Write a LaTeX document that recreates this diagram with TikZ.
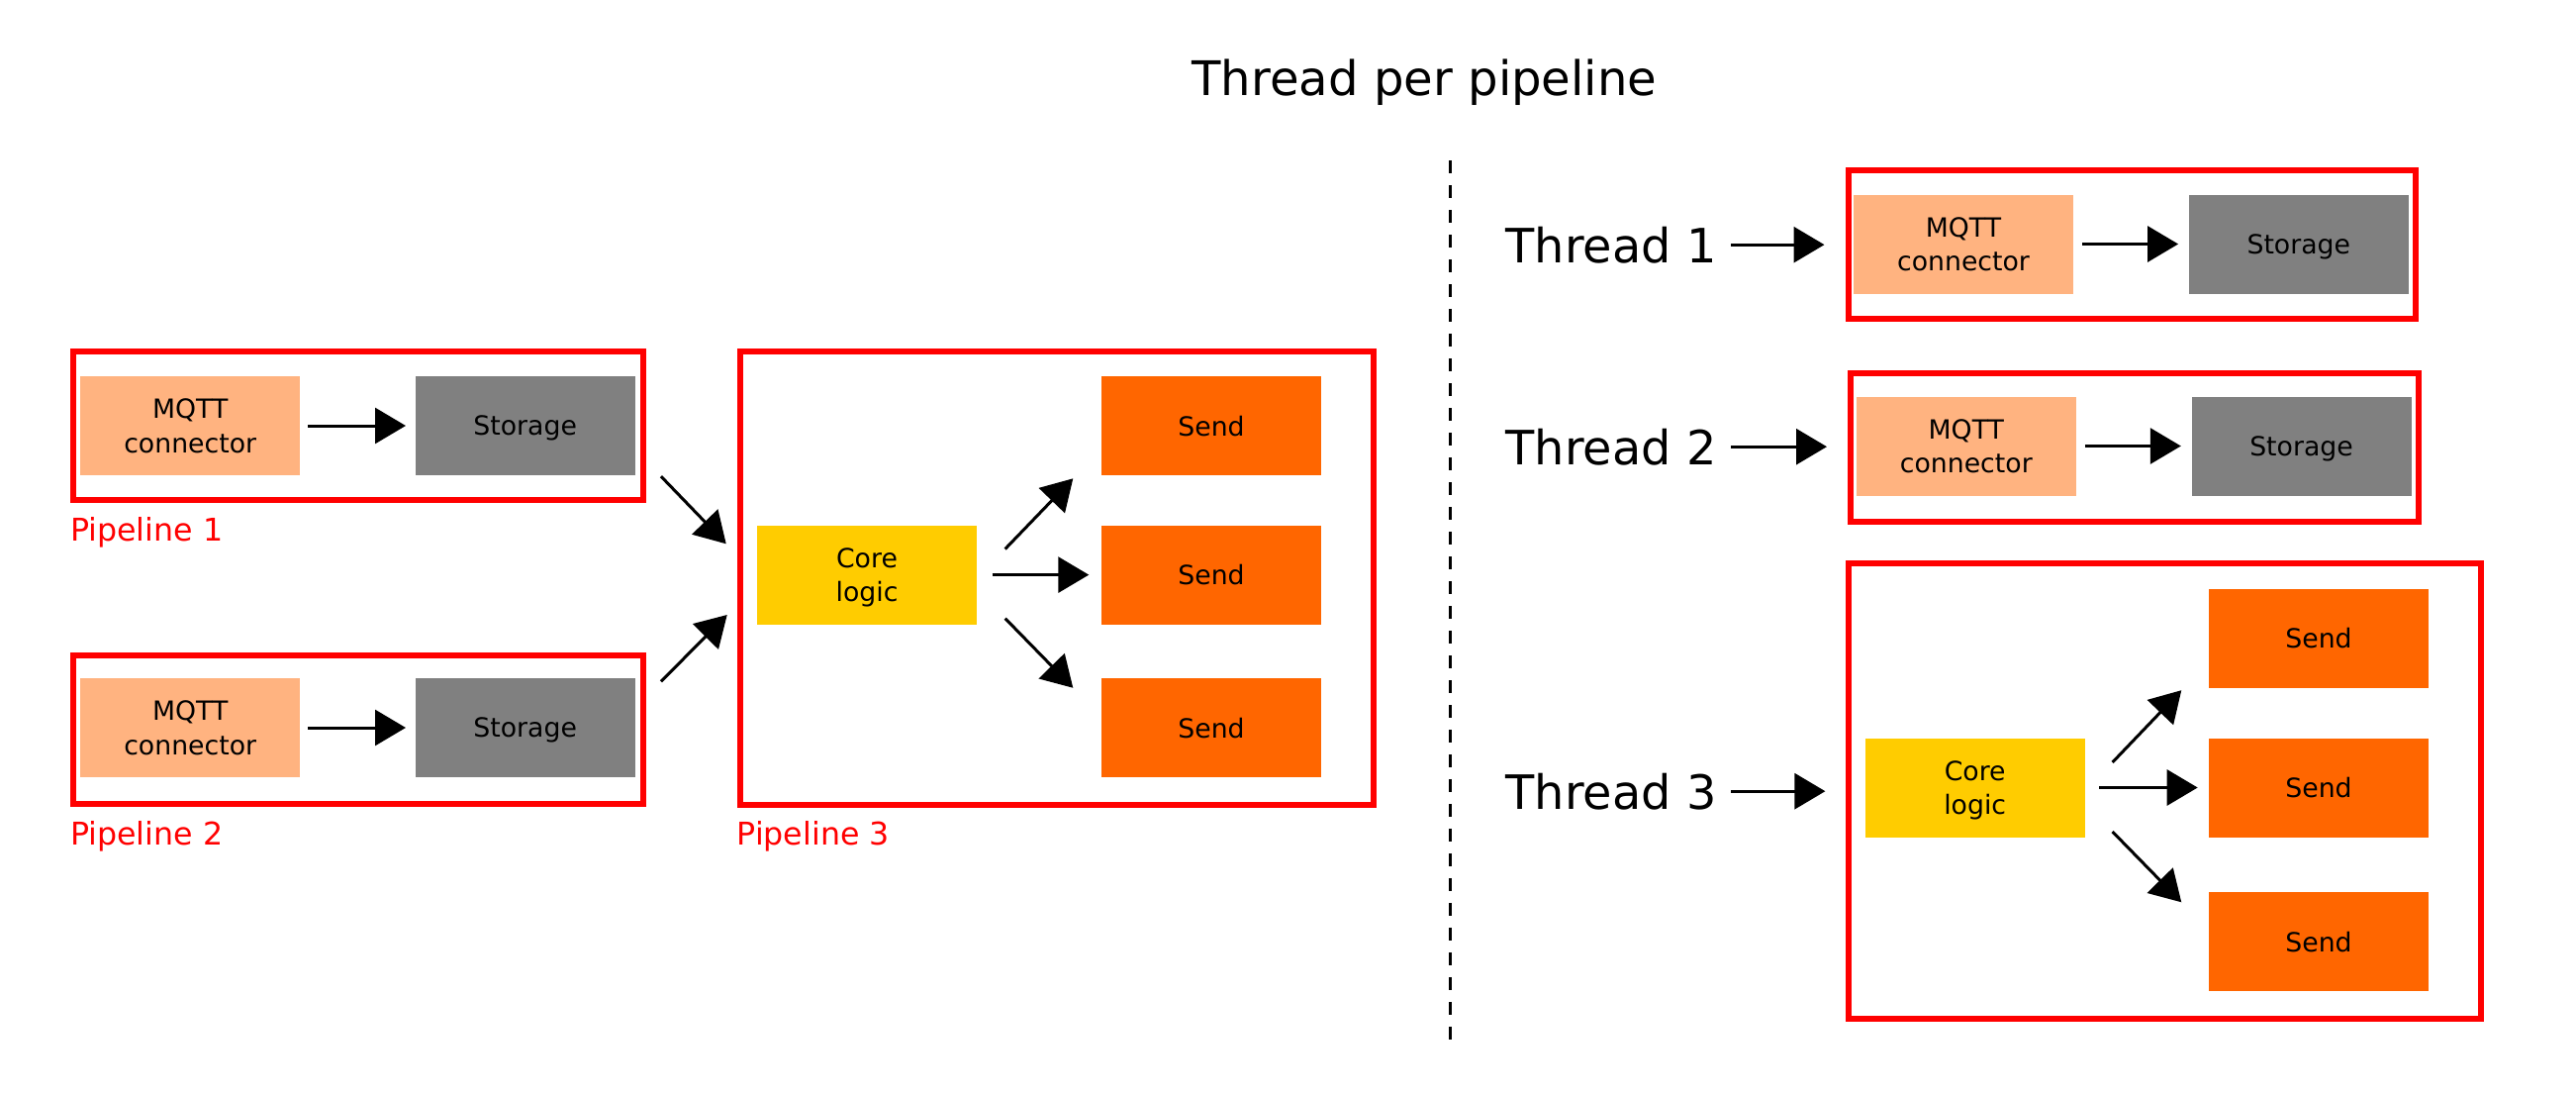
\documentclass[tikz,border=0pt]{standalone}
\usepackage{fontspec}
\setmainfont{DejaVu Sans}
\usetikzlibrary{arrows.meta,calc}
\definecolor{mqttorange}{HTML}{FFB380}
\definecolor{storegray}{HTML}{808080}
\definecolor{sendorange}{HTML}{FF6600}
\definecolor{coreyellow}{HTML}{FFCC00}

\begin{document}
\begin{tikzpicture}[x=0.1mm, y=-0.1mm]
		\tikzstyle{block}=[minimum width=22.2mm, minimum height=10mm, inner sep=0pt, text depth=0pt, align=center, font=\fontsize{7.6}{9.85}\selectfont]
		\tikzstyle{frame}=[draw=red, line width=0.6mm, inner sep=0pt]
		\tikzstyle{arr}=[-{Triangle[length=3.1mm,width=3.6mm]}, line width=0.3mm]
		\useasboundingbox[fill=white] (0,0) rectangle (2603,1107);
		
		\node[anchor=base, font=\fontsize{13.7}{16}\selectfont](title) at (1439.5,96) {Thread per pipeline};
		\draw[line width=0.33mm, dash pattern=on 1.3mm off 1.2mm] (1465.5,162) -- (1465.5,1051);
		
		% pipelines
		\node[frame, minimum width=57.6mm, minimum height=15mm](p1) at (361.7,430.4) {};
		\node[frame, minimum width=57.6mm, minimum height=15mm](p2) at (361.7,736.5) {};
		\node[frame, minimum width=64.05mm, minimum height=45.75mm](p3) at (1067.8,584) {};
		
		\foreach \y/\ypos in {1/430, 2/735}
		\node[block, fill=mqttorange](mqtt-\y) at (192.2,\ypos) {MQTT\\connector};
		\foreach \y/\ypos in {1/430, 2/735}
		\node[block, fill=storegray](store-\y) at (530.7,\ypos) {Storage};
		
		\node[block, fill=coreyellow](core) at (876,580.6) {Core\\logic};
		\foreach \y/\ypos in {1/430, 2/580.6, 3/735}
		\node[block, fill=sendorange](send-\y) at (1224,\ypos) {Send};
		
		\foreach \y/\xpos/\ypos in {1/70.5/546, 2/70.5/853, 3/744/853}
		\node[anchor=base west, inner sep=0pt, text=red, font=\fontsize{9}{11}\selectfont](label-\y) at (\xpos,\ypos) {Pipeline \y};
		
		\foreach \y in {1,2}
		\path[arr, shorten <=0.7mm, shorten >=0.9mm] (mqtt-\y) edge (store-\y);
		\path[arr] ($(p1.south east)+(15.3,-27.2)$) edge ($(p3.west)+(-10.8,-34.7)$)
		($(p2.north east)+(15.3,29.8)$) edge ($(p3.west)+(-9.8,37)$)
		($(core.east)+(28,-26.1)$) edge ($(send-1.south west)+(-28,2.6)$)
		($(core.east)+(28,44)$) edge ($(send-3.north west)+(-28,10.5)$);
		\path[arr, shorten <=1.5mm, shorten >=1.2mm] (core) edge (send-2);
		
		% threads
		\node[frame, minimum width=57.3mm, minimum height=15mm](tbox-1) at (2154,246.5) {};
		\node[frame, minimum width=57.4mm, minimum height=15mm](tbox-2) at (2157,452) {};
		\node[frame, minimum width=63.86mm, minimum height=46mm](tbox-3) at (2187.7,799) {};
		
		\foreach \y/\ypos in {1/265, 2/469, 3/817}
		\node[anchor=base west, inner sep=0pt, font=\fontsize{13.6}{16}\selectfont](thread-\y) at (1521,\ypos) {Thread \y};
		
		\node[block, fill=mqttorange](mqtt-t1) at (1984,246.5) {MQTT\\connector};
		\node[block, fill=storegray](store-t1) at (2322.8,246.5) {Storage};
		\node[block, fill=mqttorange](mqtt-t2) at (1986.8,450.5) {MQTT\\connector};
		\node[block, fill=storegray](store-t2) at (2325.5,450.5) {Storage};
		
		\node[block, fill=coreyellow](core-t3) at (1995.7,795.5) {Core\\logic};
		\foreach \y/\ypos in {1/644.5, 2/795.5, 3/951}
		\node[block, fill=sendorange](send-t\y) at (2343,\ypos) {Send};
		
		\foreach \y in {1,2,3}
		\path[arr, shorten <=1.4mm, shorten >=2.1mm] (thread-\y.east) edge (thread-\y.east -| tbox-\y.west);
		\foreach \y in {1,2}
		\path[arr, shorten <=0.84mm, shorten >=1mm] (mqtt-t\y) edge (store-t\y);
		\path[arr] ($(core-t3.east)+(27.2,-25.5)$) edge ($(send-t1.south west)+(-27,2)$)
		($(core-t3.east)+(27.2,44.5)$) edge ($(send-t3.north west)+(-27,11)$);
		\path[arr, shorten <=1.4mm, shorten >=1.06mm] (core-t3) edge (send-t2);
\end{tikzpicture}
\end{document}
